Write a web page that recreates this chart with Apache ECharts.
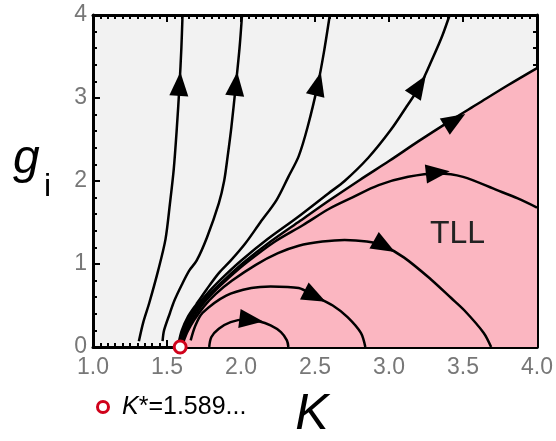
<!DOCTYPE html>
<html>
<head>
<meta charset="utf-8">
<script src="https://cdn.jsdelivr.net/npm/echarts@6/dist/echarts.min.js"></script>
<style>
  html, body { margin: 0; padding: 0; background: #fff; }
  #main { width: 556px; height: 441px; }
</style>
</head>
<body>
<div id="main"></div>
<script>
// axis ticks
const xTicks = [1.0, 1.5, 2.0, 2.5, 3.0, 3.5, 4.0];
const yTicks = [0, 1, 2, 3, 4];
const kStar = 1.589;

// flow lines, [K, g_i]
const flowLeft1 = [[1.31,0.07],[1.34,0.3],[1.38,0.53],[1.44,0.92],[1.49,1.3],[1.52,1.73],[1.545,2.13],[1.565,2.6],[1.585,3.17],[1.597,3.6],[1.605,4.0]];
const flowLeft2 = [[1.47,0.07],[1.48,0.2],[1.52,0.41],[1.55,0.56],[1.6,0.75],[1.65,0.92],[1.7,1.04],[1.77,1.32],[1.85,1.73],[1.886,2.0],[1.91,2.3],[1.935,2.65],[1.966,3.17],[1.99,3.6],[2.007,4.0]];
const flowLeft3 = [[1.58,0.06],[1.6,0.2],[1.64,0.36],[1.7,0.52],[1.77,0.7],[1.85,0.89],[1.93,1.04],[2.03,1.25],[2.13,1.5],[2.24,1.77],[2.32,2.05],[2.39,2.3],[2.45,2.65],[2.52,3.17],[2.56,3.55],[2.6,4.0]];
const flowLeft4 = [[1.585,0.06],[1.61,0.2],[1.65,0.35],[1.71,0.51],[1.79,0.68],[1.89,0.86],[2.0,1.04],[2.18,1.3],[2.38,1.56],[2.59,1.85],[2.7,2.0],[2.86,2.28],[3.01,2.61],[3.12,2.9],[3.21,3.15],[3.3,3.5],[3.36,3.75],[3.41,4.0]];
const separatrix = [[1.589,0],[1.595,0.08],[1.62,0.2],[1.66,0.34],[1.72,0.5],[1.8,0.66],[1.9,0.83],[2.02,1.02],[2.2,1.27],[2.4,1.52],[2.6,1.77],[2.8,2.01],[3.0,2.24],[3.2,2.48],[3.4,2.71],[3.6,2.93],[3.8,3.15],[4.0,3.36]];
const tll1 = [[1.6,0.06],[1.63,0.2],[1.675,0.34],[1.735,0.5],[1.815,0.66],[1.915,0.83],[2.04,1.02],[2.22,1.26],[2.42,1.47],[2.59,1.66],[2.75,1.8],[2.93,1.95],[3.13,2.05],[3.33,2.09],[3.5,2.05],[3.73,1.89],[3.87,1.79],[4.0,1.68]];
const tll2 = [[1.61,0.06],[1.64,0.19],[1.685,0.33],[1.75,0.49],[1.83,0.64],[1.94,0.8],[2.1,0.99],[2.25,1.13],[2.39,1.22],[2.55,1.27],[2.7,1.29],[2.85,1.27],[2.96,1.22],[3.1,1.08],[3.28,0.82],[3.42,0.59],[3.51,0.44],[3.64,0.17],[3.69,0.0]];
const tll3 = [[1.66,0.08],[1.69,0.25],[1.74,0.41],[1.9,0.62],[2.07,0.71],[2.2,0.73],[2.39,0.71],[2.5,0.61],[2.62,0.5],[2.72,0.36],[2.81,0.17],[2.84,0]];
const tll4 = [[1.785,0],[1.8,0.12],[1.85,0.22],[1.93,0.3],[2.03,0.33],[2.12,0.31],[2.2,0.26],[2.27,0.18],[2.31,0.08],[2.32,0]];

const curves = [flowLeft1, flowLeft2, flowLeft3, flowLeft4, separatrix, tll1, tll2, tll3, tll4];
// arrow heads: [K, g_i, curve index]
const arrows = [[1.585,3.17,0],[1.966,3.17,1],[2.52,3.17,2],[3.205,3.15,3],[3.446,2.73,4],[3.33,2.1,5],[2.97,1.215,6],[2.5,0.61,7],[2.07,0.325,8]];

const chart = echarts.init(document.getElementById('main'));
const FONT = 'Liberation Sans';

function tickAxis(extra) {
  return Object.assign({
    type: 'value',
    axisLine: { show: true, onZero: false, lineStyle: { color: '#000', width: 3 } },
    axisTick: { show: true, inside: true, length: 7, lineStyle: { color: '#000', width: 2 } },
    splitLine: { show: false },
    minorSplitLine: { show: false }
  }, extra);
}

const lineSeries = curves.map((c, i) => {
  const s = {
    type: 'line',
    data: c,
    symbol: 'none',
    smooth: 0.3,
    silent: true,
    lineStyle: { color: '#000', width: 2.5 },
    z: 3
  };
  if (i === 4) {
    s.areaStyle = { color: '#fbb6c1', opacity: 1, origin: 'start' };
    s.z = 2;
  }
  return s;
});

const xMinor = { show: true, splitNumber: 10, length: 4, lineStyle: { color: '#000', width: 2 } };
const yMinor = { show: true, splitNumber: 5, length: 4, lineStyle: { color: '#000', width: 2 } };

var option = {
  animation: false,
  grid: { left: 93, right: 17, top: 15, bottom: 94, show: true, backgroundColor: '#f2f2f2', borderWidth: 0 },
  xAxis: [
    tickAxis({
      min: xTicks[0], max: xTicks[xTicks.length - 1], interval: 0.5, position: 'bottom',
      minorTick: xMinor,
      axisLabel: { color: '#777', fontSize: 23, fontFamily: FONT, margin: 9, formatter: v => v.toFixed(1) }
    }),
    tickAxis({
      min: xTicks[0], max: xTicks[xTicks.length - 1], interval: 0.5, position: 'top',
      minorTick: xMinor,
      axisLabel: { show: false }
    })
  ],
  yAxis: [
    tickAxis({
      min: yTicks[0], max: yTicks[yTicks.length - 1], interval: 1, position: 'left',
      minorTick: yMinor,
      axisLabel: { color: '#777', fontSize: 23, fontFamily: FONT, margin: 6 }
    }),
    tickAxis({
      min: yTicks[0], max: yTicks[yTicks.length - 1], interval: 1, position: 'right',
      minorTick: yMinor,
      axisLabel: { show: false }
    })
  ],
  graphic: [
    { type: 'text', left: 430, top: 218, style: { text: 'TLL', fill: '#222', font: '32px "' + FONT + '"' }, z: 10 },
    { type: 'text', x: 312, y: 415, style: { text: 'K', fill: '#000', font: 'italic 50px "' + FONT + '"', textAlign: 'center', textVerticalAlign: 'middle' }, z: 10 },
    { type: 'text', x: 13, y: 160, style: { text: 'g', fill: '#000', font: 'italic 48px "' + FONT + '"', textAlign: 'left', textVerticalAlign: 'middle' }, z: 10 },
    { type: 'text', x: 44, y: 187, style: { text: 'i', fill: '#000', font: '32px "' + FONT + '"', textAlign: 'left', textVerticalAlign: 'middle' }, z: 10 },
    { type: 'circle', shape: { cx: 103, cy: 407, r: 5.5 }, style: { fill: '#fff', stroke: '#d0021b', lineWidth: 3 }, z: 10 },
    { type: 'text', x: 122, y: 407, style: {
        text: '{k|K}{r|*=1.589...}', textVerticalAlign: 'middle',
        rich: {
          k: { fontStyle: 'italic', fontSize: 25, fontFamily: FONT, color: '#222' },
          r: { fontSize: 25, fontFamily: FONT, color: '#222' }
        }
      }, z: 10 }
  ],
  series: lineSeries.concat([
    {
      id: 'arrows', type: 'scatter', silent: true, clip: false, z: 5,
      symbol: 'triangle', symbolSize: [19, 24],
      itemStyle: { color: '#000', opacity: 1 },
      data: []
    },
    {
      type: 'scatter', silent: true, clip: false, z: 8,
      symbol: 'circle', symbolSize: 12,
      itemStyle: { color: '#fff', borderColor: '#d0021b', borderWidth: 3, opacity: 1 },
      data: [[kStar, 0]]
    }
  ])
};

chart.setOption(option);

// orient each arrow head along its curve
function segDist(p, a, b) {
  const dx = b[0] - a[0], dy = b[1] - a[1];
  const L = dx * dx + dy * dy || 1;
  let t = ((p[0] - a[0]) * dx + (p[1] - a[1]) * dy) / L;
  t = Math.max(0, Math.min(1, t));
  const x = a[0] + t * dx - p[0], y = a[1] + t * dy - p[1];
  return x * x + y * y;
}
const arrowData = arrows.map(([k, g, ci]) => {
  const pts = curves[ci].map(p => chart.convertToPixel({ gridIndex: 0 }, p));
  const ap = chart.convertToPixel({ gridIndex: 0 }, [k, g]);
  let best = 0, bd = Infinity;
  for (let i = 0; i < pts.length - 1; i++) {
    const d = segDist(ap, pts[i], pts[i + 1]);
    if (d < bd) { bd = d; best = i; }
  }
  const dx = pts[best + 1][0] - pts[best][0];
  const dy = pts[best + 1][1] - pts[best][1];
  const ang = Math.atan2(-dy, dx) * 180 / Math.PI - 90;
  return { value: [k, g], symbolRotate: ang };
});
chart.setOption({ series: [{ id: 'arrows', data: arrowData }] });
</script>
</body>
</html>
